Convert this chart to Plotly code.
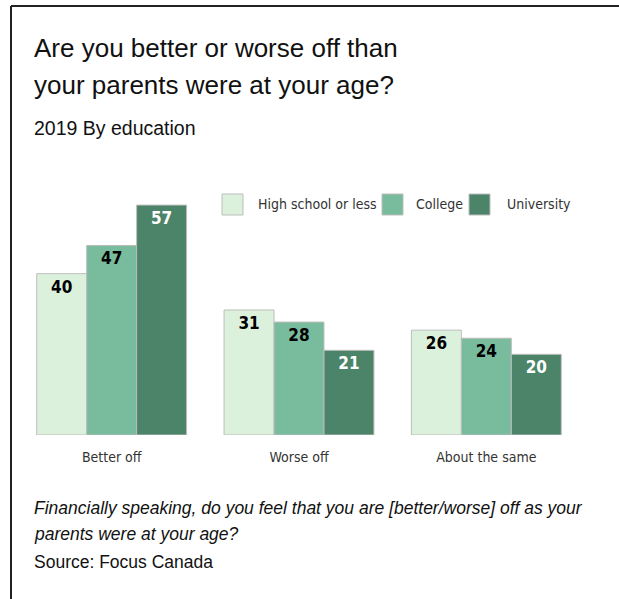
import plotly.graph_objects as go

# Survey answers by education level (percent)
categories = ["Better off", "Worse off", "About the same"]
series_names = ["High school or less", "College", "University"]
high_school = [40, 31, 26]
college = [47, 28, 24]
university = [57, 21, 20]

fills = ["#dcf1dc", "#79bb9d", "#4b8468"]
label_colors = ["#000000", "#000000", "#ffffff"]
outline = "#bdbdbd"
NARROW = "DejaVu Sans Condensed, Roboto, sans-serif"

W, H = 619, 599
ML, MR, MT, MB = 18, 39, 193, 164
PW, PH = W - ML - MR, H - MT - MB


def px_x(x):
    return (x - ML) / PW


def px_y(y):
    return (H - MB - y) / PH


fig = go.Figure()
for name, vals, fill, tcol in zip(series_names, [high_school, college, university], fills, label_colors):
    fig.add_trace(go.Bar(
        x=categories, y=vals, name=name,
        marker=dict(color=fill, line=dict(color=outline, width=1)),
        text=[str(v) for v in vals],
        textposition="inside", insidetextanchor="end", textangle=0,
        textfont=dict(family=NARROW, size=17, color=tcol, weight="bold"),
        showlegend=False,
    ))

fig.update_layout(
    width=W, height=H,
    margin=dict(l=ML, r=MR, t=MT, b=MB),
    paper_bgcolor="white", plot_bgcolor="white",
    barmode="group", bargap=0.2, bargroupgap=0,
    xaxis=dict(showgrid=False, zeroline=False, showline=False,
               ticks="outside", ticklen=9, tickcolor="rgba(0,0,0,0)",
               tickfont=dict(family=NARROW, size=14, color="#333333")),
    yaxis=dict(range=[0, 60], visible=False),
    uniformtext=dict(minsize=8),
)

shapes = []
annotations = []

# frame along the left and top edges
shapes.append(dict(type="line", xref="paper", yref="paper",
                   x0=px_x(11), x1=px_x(11), y0=px_y(6), y1=px_y(H),
                   line=dict(color="#222222", width=2)))
shapes.append(dict(type="line", xref="paper", yref="paper",
                   x0=px_x(11), x1=px_x(W), y0=px_y(6), y1=px_y(6),
                   line=dict(color="#222222", width=2)))

# legend swatches and labels
legend_items = [(222, 256), (382, 414), (469, 505)]
for (sx, tx), name, fill in zip(legend_items, series_names, fills):
    shapes.append(dict(type="rect", xref="paper", yref="paper",
                       x0=px_x(sx), x1=px_x(sx + 21), y0=px_y(215), y1=px_y(194),
                       fillcolor=fill, line=dict(color=outline, width=1)))
    annotations.append(dict(text=name, xref="paper", yref="paper",
                            x=px_x(tx), y=px_y(204), xanchor="left", yanchor="middle",
                            showarrow=False,
                            font=dict(family=NARROW, size=14, color="#333333")))

title_font = dict(family="Liberation Sans", size=26, color="#111111")
annotations += [
    dict(text="Are you better or worse off than", x=px_x(32), y=px_y(48), font=title_font),
    dict(text="your parents were at your age?", x=px_x(32), y=px_y(85), font=title_font),
    dict(text="2019 By education", x=px_x(32), y=px_y(128),
         font=dict(family="Liberation Sans", size=19.5, color="#111111")),
    dict(text="<i>Financially speaking, do you feel that you are [better/worse] off as your</i>",
         x=px_x(32), y=px_y(508),
         font=dict(family="Liberation Sans", size=17.5, color="#111111")),
    dict(text="<i>parents were at your age?</i>", x=px_x(32), y=px_y(534),
         font=dict(family="Liberation Sans", size=17.5, color="#111111")),
    dict(text="Source: Focus Canada", x=px_x(32), y=px_y(562),
         font=dict(family="Liberation Sans", size=17.5, color="#111111")),
]
for a in annotations[-6:]:
    a.update(xref="paper", yref="paper", xanchor="left", yanchor="middle", showarrow=False)

fig.update_layout(shapes=shapes, annotations=annotations)
fig.write_html("out.html")
